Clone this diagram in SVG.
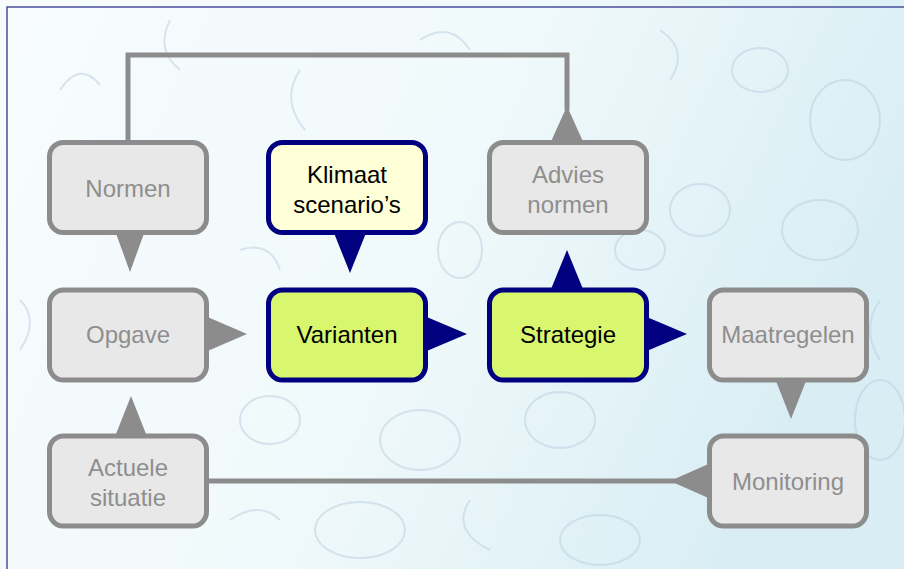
<svg xmlns="http://www.w3.org/2000/svg" width="904" height="569" viewBox="0 0 904 569">
<defs>
<linearGradient id="bg" x1="0" y1="0" x2="1" y2="0.3">
<stop offset="0" stop-color="#f8fcfd"/>
<stop offset="0.55" stop-color="#f0f9fb"/>
<stop offset="1" stop-color="#d9eef4"/>
</linearGradient>
<style>
.gbox{fill:#e8e8e8;stroke:#8c8c8c;stroke-width:5}
.ybox{fill:#ffffd8;stroke:#000080;stroke-width:5}
.lbox{fill:#d9f66f;stroke:#000080;stroke-width:5}
.gtri{fill:#8c8c8c}
.ntri{fill:#000080}
.gt{font-family:"Liberation Sans",Arial,sans-serif;font-size:24px;fill:#8e8e8e;text-anchor:middle}
.bt{font-family:"Liberation Sans",Arial,sans-serif;font-size:24px;fill:#000;text-anchor:middle}
.line{fill:none;stroke:#8c8c8c;stroke-width:5}
.bub{fill:none;stroke:#b7cde0;stroke-width:2;opacity:0.5}
</style>
</defs>
<rect x="0" y="0" width="904" height="569" fill="url(#bg)"/>
<g id="texture">
<path class="bub" d="M60 90 q20 -30 40 -5"/>
<path class="bub" d="M170 20 q-15 30 10 50"/>
<path class="bub" d="M300 70 q-20 30 5 60"/>
<path class="bub" d="M420 40 q30 -20 50 10"/>
<path class="bub" d="M660 30 q30 20 10 50"/>
<ellipse class="bub" cx="760" cy="70" rx="28" ry="22"/>
<ellipse class="bub" cx="845" cy="120" rx="35" ry="40"/>
<ellipse class="bub" cx="700" cy="210" rx="30" ry="26"/>
<ellipse class="bub" cx="820" cy="230" rx="38" ry="30"/>
<ellipse class="bub" cx="460" cy="250" rx="22" ry="28"/>
<ellipse class="bub" cx="640" cy="250" rx="25" ry="20"/>
<ellipse class="bub" cx="270" cy="420" rx="30" ry="24"/>
<ellipse class="bub" cx="420" cy="440" rx="40" ry="30"/>
<ellipse class="bub" cx="560" cy="420" rx="35" ry="28"/>
<ellipse class="bub" cx="880" cy="420" rx="25" ry="40"/>
<ellipse class="bub" cx="360" cy="530" rx="45" ry="28"/>
<ellipse class="bub" cx="600" cy="540" rx="40" ry="25"/>
<path class="bub" d="M240 250 q30 -10 40 20"/>
<path class="bub" d="M20 300 q20 20 0 50"/>
<path class="bub" d="M230 520 q30 -20 50 0"/>
<path class="bub" d="M470 500 q-20 30 20 50"/>
<path class="bub" d="M880 300 q-20 30 0 60"/>
</g>
<rect x="7" y="7" width="904" height="569" fill="none" stroke="#4a4f9a" stroke-width="1.5"/>
<g id="connectors">
<polyline class="line" points="128,142 128,55 567,55 567,110"/>
<line class="line" x1="209" y1="481" x2="676" y2="481"/>
<polygon class="gtri" points="549,146 585,146 567,106"/>
<polygon class="gtri" points="114,228 146,228 130,272"/>
<polygon class="ntri" points="332,228 368,228 350,273"/>
<polygon class="ntri" points="549,294 585,294 567,250"/>
<polygon class="gtri" points="203,315 203,353 247,334"/>
<polygon class="ntri" points="422,315 422,353 467,334"/>
<polygon class="ntri" points="642,315 642,353 687,334"/>
<polygon class="gtri" points="774,376 808,376 791,419"/>
<polygon class="gtri" points="114,439 148,439 131,396"/>
<polygon class="gtri" points="713,462 713,500 670,481"/>
</g>
<g id="normen">
<rect class="gbox" x="49.5" y="142.5" width="157" height="90" rx="14"/>
<text class="gt" x="128" y="197">Normen</text>
</g>
<g id="klimaat">
<rect class="ybox" x="268.5" y="142.5" width="157" height="90" rx="14"/>
<text class="bt" x="347" y="183">Klimaat</text>
<text class="bt" x="347" y="213">scenario’s</text>
</g>
<g id="advies">
<rect class="gbox" x="489.5" y="142.5" width="157" height="90" rx="14"/>
<text class="gt" x="568" y="183">Advies</text>
<text class="gt" x="568" y="213">normen</text>
</g>
<g id="opgave">
<rect class="gbox" x="49.5" y="290" width="157" height="90" rx="14"/>
<text class="gt" x="128" y="343">Opgave</text>
</g>
<g id="varianten">
<rect class="lbox" x="268.5" y="290" width="157" height="90" rx="14"/>
<text class="bt" x="347" y="343">Varianten</text>
</g>
<g id="strategie">
<rect class="lbox" x="489.5" y="290" width="157" height="90" rx="14"/>
<text class="bt" x="568" y="343">Strategie</text>
</g>
<g id="maatregelen">
<rect class="gbox" x="709.5" y="290" width="157" height="90" rx="14"/>
<text class="gt" x="788" y="343">Maatregelen</text>
</g>
<g id="actuele">
<rect class="gbox" x="49.5" y="436" width="157" height="90" rx="14"/>
<text class="gt" x="128" y="476">Actuele</text>
<text class="gt" x="128" y="506">situatie</text>
</g>
<g id="monitoring">
<rect class="gbox" x="709.5" y="436" width="157" height="90" rx="14"/>
<text class="gt" x="788" y="490">Monitoring</text>
</g>
</svg>
